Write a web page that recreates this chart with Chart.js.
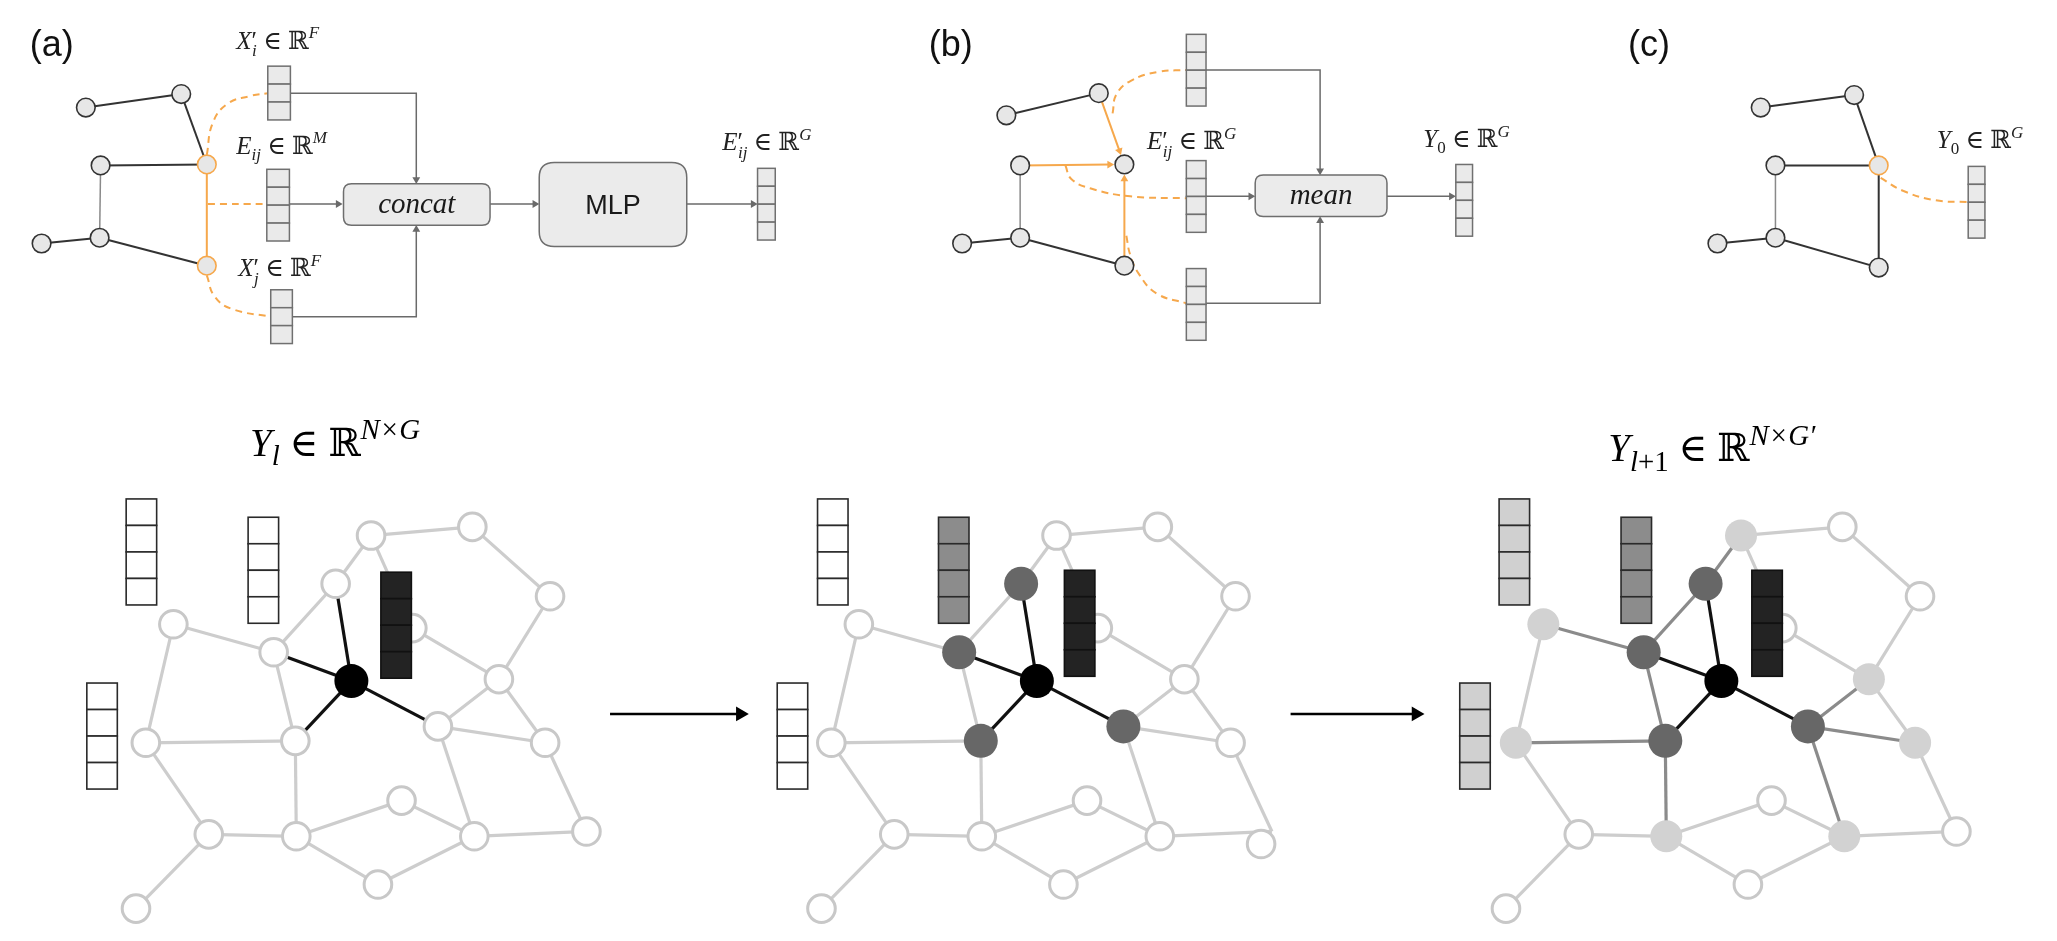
<!DOCTYPE html>
<html><head><meta charset="utf-8">
<script src="https://cdn.jsdelivr.net/npm/chart.js@4.4.0/dist/chart.umd.min.js"></script>
<style>html,body{margin:0;padding:0;background:#fff;overflow:hidden}canvas{display:block}</style>
</head><body>
<canvas id="c" width="2057" height="941"></canvas>
<script>
// ================= DATA =================
const W = 2057, H = 941;

// --- top small graphs (a), (b), (c): node positions and edges ---
const smallGraphA = [[70,94],[167,80],[85,154],[193,153],[25,235],[84,229],[193,258]];
const smallGraphB = [[1006,102],[1100,79],[1020,154],[1126,153],[961,235],[1020,229],[1126,258]];
const smallGraphC = [[1773,94],[1868,81],[1788,154],[1893,154],[1729,235],[1788,229],[1893,260]];
const smallEdgesA = [[0,1],[1,3],[2,3],[4,5],[5,6]];
const smallEdgesB = [[0,1],[4,5],[5,6]];
const smallEdgesC = [[0,1],[1,3],[2,3],[4,5],[5,6],[3,6]];
const smallThinEdges = [[2,5]];
const focusEdgeA = [[3,6]];
const messageArrowsB = [[1,3],[2,3],[6,3]];
const focusNodesA = [3,6];
const focusNodesC = [3];

// --- feature vectors in the top row: [left, top, cells] ---
const topVectors = [[255,51,3],[254,158,4],[258,283,3],[753,157,4],[1189,18,4],[1189,149,4],[1189,261,4],[1463,153,4],[1984,155,4]];

// --- connectors (gray arrows) and orange dashed curves ---
const connectors = [
  [[278,79],[406,79],[406,173]],
  [[277,194],[331,194]],
  [[280,311],[406,311],[406,216]],
  [[481,194],[531,194]],
  [[681,194],[753,194]],
  [[1209,55],[1325,55],[1325,164]],
  [[1209,186],[1259,186]],
  [[1209,297],[1325,297],[1325,207]],
  [[1393,186],[1463,186]]
];
const stepArrows = [[[603,723],[744,723]],[[1295,723],[1431,723]]];
const dashCurves = [
  [[193,143],[199,110],[214,90],[237,82],[255,79]],
  [[194,194],[254,194]],
  [[193,268],[201,290],[219,303],[258,311]],
  [[1114,100],[1118,80],[1133,66],[1160,57],[1189,55]],
  [[1066,154],[1072,168],[1092,178],[1132,186],[1189,188]],
  [[1128,227],[1132,247],[1141,267],[1159,287],[1189,297]],
  [[1895,167],[1917,180],[1950,190],[1984,192]]
];

// --- operation boxes [x0,y0,x1,y1] and their labels ---
const boxes = [[332,173,481,216],[531,151,681,238],[1259,164,1393,207]];
const boxLabels = ['concat','MLP','mean'];

// --- bottom network (base positions, left panel) ---
const netNodes = [[360,538],[463,529],[324,588],[542,601],[402,634],[159,630],[261,659],[340,689],[490,687],[428,736],
                  [131,753],[283,751],[537,753],[391,813],[195,848],[284,850],[465,850],[579,845],[367,900],[121,925]];
const netEdges = [[0,1],[0,2],[0,4],[1,3],[3,8],[4,8],[2,6],[2,7],[5,6],[5,10],[6,7],[6,11],[7,9],[7,11],[8,9],[8,12],
                  [9,12],[9,16],[10,11],[10,14],[11,15],[12,17],[13,15],[13,16],[14,15],[14,19],[15,18],[16,18],[16,17]];
const panelOffsets = [0, 697, 1393];
const panelDepth = [0, 1, 2];
// node states per panel: e = untouched, c = centre, h = 1-hop, g = 2-hop
const nodeStates = [
  ['e','e','e','e','e','e','e','c','e','e','e','e','e','e','e','e','e','e','e','e'],
  ['e','e','h','e','e','e','h','c','e','h','e','h','e','e','e','e','e','e','e','e'],
  ['g','e','h','e','e','g','h','c','g','h','g','h','g','e','e','g','g','e','e','e']
];
const movedNodes = [[1, 17, 1265, 858]]; // [panel, node, x, y] node drawn off its edge ends
// bottom vectors: [left, top, state]
const bottomVectors = [
  [111,500,'e'],[235,519,'e'],[370,576,'c'],[71,691,'e'],
  [814,500,'e'],[937,519,'h'],[1065,574,'c'],[773,691,'e'],
  [1507,500,'g'],[1631,519,'h'],[1764,574,'c'],[1467,691,'g']
];

// --- text ---
const panelLabels = ['(a)','(b)','(c)'];
const panelLabelPos = [[13,40],[927,40],[1638,40]];
const mathLabels = [
  [['X','it'],['′','prime'],['i','sub2'],[' ∈ ','rm'],['ℝ','rm'],['F','sup']],
  [['E','it'],['ij','sub'],[' ∈ ','rm'],['ℝ','rm'],['M','sup']],
  [['X','it'],['′','prime'],['j','sub2'],[' ∈ ','rm'],['ℝ','rm'],['F','sup']],
  [['E','it'],['′','prime'],['ij','sub2'],[' ∈ ','rm'],['ℝ','rm'],['G','sup']],
  [['E','it'],['′','prime'],['ij','sub2'],[' ∈ ','rm'],['ℝ','rm'],['G','sup']],
  [['Y','it'],['0','subr'],[' ∈ ','rm'],['ℝ','rm'],['G','sup']],
  [['Y','it'],['0','subr'],[' ∈ ','rm'],['ℝ','rm'],['G','sup']]
];
const mathLabelPos = [[223,33],[223,142],[225,269],[717,138],[1149,137],[1430,135],[1952,136]];
const titles = [
  [['Y','it'],['l','sub'],[' ∈ ','rm'],['ℝ','rm'],['N×G','sup']],
  [['Y','it'],['l','sub'],['+1','subr'],[' ∈ ','rm'],['ℝ','rm'],['N×G′','sup']]
];
const titlePos = [[237,455],[1618,461]];

// ================= STYLE =================
const ORANGE = '#f6a84c';
const topVecW = [23,23,22,18,20,20,20,17,17], topCellH = 18.6;
const botVecW = 31, botCellH = 27.5;
const stateNode = {
  e: {r: 13.8, bg: '#ffffff', bd: '#c8c8c8', bw: 3},
  c: {r: 17, bg: '#000000', bd: '#000000', bw: 0},
  h: {r: 17, bg: '#676767', bd: '#676767', bw: 0},
  g: {r: 16, bg: '#d2d2d2', bd: '#d2d2d2', bw: 0}
};
const stateVec = {e: '#ffffff', c: '#232323', h: '#8c8c8c', g: '#d0d0d0'};

// ================= BUILD DATASETS =================
const datasets = [];
const P = a => ({x: a[0], y: a[1]});
function line(pts, color, width, extra) {
  datasets.push(Object.assign({
    data: pts.map(P), showLine: true, borderColor: color, borderWidth: width,
    pointRadius: 0, pointHoverRadius: 0, fill: false, tension: 0, order: 5,
    borderCapStyle: 'butt', borderJoinStyle: 'miter'
  }, extra || {}));
}
const heads = {};
function arrowHead(key, pts, r) {
  const n = pts.length, a = pts[n - 2], b = pts[n - 1];
  const dx = b[0] - a[0], dy = b[1] - a[1], L = Math.hypot(dx, dy);
  const ux = dx / L, uy = dy / L;
  const c = [b[0] - ux * r, b[1] - uy * r];
  (heads[key] = heads[key] || []).push({pt: c, rot: Math.atan2(ux, -uy) * 180 / Math.PI});
  return pts.slice(0, n - 1).concat([c]);
}

// top graphs
function smallGraph(nodes, dark, focusEdges, focusNodes) {
  dark.forEach(([i, j]) => line([nodes[i], nodes[j]], '#333333', 2));
  smallThinEdges.forEach(([i, j]) => line([nodes[i], nodes[j]], '#8a8a8a', 1.5));
  focusEdges.forEach(([i, j]) => line([nodes[i], nodes[j]], ORANGE, 2));
  datasets.push({
    data: nodes.map(P), showLine: false, order: 1,
    pointRadius: 9.3, pointHoverRadius: 9.3, pointBorderWidth: 1.6,
    pointBackgroundColor: '#e7e7e7',
    pointBorderColor: nodes.map((_, k) => focusNodes.includes(k) ? ORANGE : '#333333')
  });
}
smallGraph(smallGraphA, smallEdgesA, focusEdgeA, focusNodesA);
smallGraph(smallGraphB, smallEdgesB, [], []);
smallGraph(smallGraphC, smallEdgesC, [], focusNodesC);
messageArrowsB.forEach(([i, j]) => {
  const s = smallGraphB[i], t = smallGraphB[j];
  const dx = t[0] - s[0], dy = t[1] - s[1], L = Math.hypot(dx, dy);
  const tip = [t[0] - dx / L * 10.5, t[1] - dy / L * 10.5];
  line(arrowHead('orange', [s, tip], 4.5), ORANGE, 2);
});
dashCurves.forEach(c => line(c, ORANGE, 2, {borderDash: [7, 5], tension: 0.45, order: 7}));
connectors.forEach(c => line(arrowHead('gray', c, 4.5), '#6a6a6a', 1.5));
stepArrows.forEach(c => line(arrowHead('black', c, 8.5), '#000000', 2.5));

// bottom panels
panelOffsets.forEach((off, p) => {
  const st = nodeStates[p];
  const pos = netNodes.map(([x, y]) => [x + off, y]);
  netEdges.forEach(([i, j]) => {
    let col = '#cdcdcd', ord = 6;
    if (st[i] === 'c' || st[j] === 'c') { col = '#111111'; ord = 4; }
    else if (panelDepth[p] >= 2 && (st[i] === 'h' || st[j] === 'h')) { col = '#8b8b8b'; ord = 5; }
    line([pos[i], pos[j]], col, 3.2, {order: ord});
  });
  const drawPos = pos.map(q => q.slice());
  movedNodes.filter(m => m[0] === p).forEach(m => { drawPos[m[1]] = [m[2], m[3]]; });
  datasets.push({
    data: drawPos.map(P), showLine: false, order: 1,
    pointRadius: st.map(s => stateNode[s].r), pointHoverRadius: st.map(s => stateNode[s].r),
    pointBackgroundColor: st.map(s => stateNode[s].bg),
    pointBorderColor: st.map(s => stateNode[s].bd),
    pointBorderWidth: st.map(s => stateNode[s].bw)
  });
});

// arrow heads
const headStyle = {gray: ['#6a6a6a', 4.5], black: ['#000000', 8.5], orange: [ORANGE, 4.5]};
Object.keys(heads).forEach(k => {
  datasets.push({
    data: heads[k].map(h => P(h.pt)), showLine: false, order: 0,
    pointStyle: 'triangle', pointRotation: heads[k].map(h => h.rot),
    pointRadius: headStyle[k][1], pointHoverRadius: headStyle[k][1],
    pointBackgroundColor: headStyle[k][0], pointBorderColor: headStyle[k][0], pointBorderWidth: 0
  });
});

// ================= OVERLAY (cells, boxes, text) =================
function drawMath(ctx, px, py, tokens, size, color, ratio) {
  let cx = px, supStart = px;
  ctx.fillStyle = color; ctx.textBaseline = 'alphabetic'; ctx.textAlign = 'left';
  for (const [t, k] of tokens) {
    let s = size, dy = 0, it = true, x = cx;
    if (k === 'rm') it = false;
    if (k === 'prime') { it = false; supStart = cx + size * 0.02; }
    if (k === 'sup') { s = size * ratio; dy = -size * 0.42; }
    if (k === 'sub' || k === 'subr') { s = size * ratio; dy = size * 0.24; it = (k === 'sub'); }
    if (k === 'sub2') { s = size * ratio; dy = size * 0.3; x = supStart; }
    ctx.font = (it ? 'italic ' : '') + s + 'px "Liberation Serif", "DejaVu Serif", serif';
    ctx.fillText(t, x, py + dy);
    cx = Math.max(cx, x + ctx.measureText(t).width);
  }
}
function roundRect(ctx, x0, y0, x1, y1, r) {
  ctx.beginPath();
  ctx.moveTo(x0 + r, y0); ctx.lineTo(x1 - r, y0); ctx.quadraticCurveTo(x1, y0, x1, y0 + r);
  ctx.lineTo(x1, y1 - r); ctx.quadraticCurveTo(x1, y1, x1 - r, y1);
  ctx.lineTo(x0 + r, y1); ctx.quadraticCurveTo(x0, y1, x0, y1 - r);
  ctx.lineTo(x0, y0 + r); ctx.quadraticCurveTo(x0, y0, x0 + r, y0);
  ctx.closePath();
}
const overlay = {
  id: 'overlay',
  afterDatasetsDraw(chart) {
    const ctx = chart.ctx, xs = chart.scales.x, ys = chart.scales.y;
    const X = v => xs.getPixelForValue(v), Y = v => ys.getPixelForValue(v);
    ctx.save();
    function cells(left, top, n, w, ch, fill, stroke, lw) {
      ctx.lineWidth = lw; ctx.strokeStyle = stroke; ctx.fillStyle = fill;
      for (let k = 0; k < n; k++) {
        const x0 = X(left), x1 = X(left + w), y0 = Y(top + k * ch), y1 = Y(top + (k + 1) * ch);
        ctx.fillRect(x0, y0, x1 - x0, y1 - y0);
        ctx.strokeRect(x0, y0, x1 - x0, y1 - y0);
      }
    }
    topVectors.forEach(([l, t, n], i) => cells(l, t, n, topVecW[i], topCellH, '#eaeaea', '#707070', 1.5));
    bottomVectors.forEach(([l, t, s]) => cells(l, t, 4, botVecW, botCellH, stateVec[s], s === 'c' ? '#111111' : '#2a2a2a', 1.6));
    // boxes
    boxes.forEach((b, i) => {
      roundRect(ctx, X(b[0]), Y(b[1]), X(b[2]), Y(b[3]), i === 1 ? 15 : 8);
      ctx.fillStyle = '#ebebeb'; ctx.fill();
      ctx.lineWidth = 1.5; ctx.strokeStyle = '#6e6e6e'; ctx.stroke();
      ctx.fillStyle = '#1a1a1a'; ctx.textAlign = 'center'; ctx.textBaseline = 'alphabetic';
      ctx.font = i === 1 ? '27px "Liberation Sans", Arial, sans-serif' : 'italic 29px "Liberation Serif", serif';
      const cy = (b[1] + b[3]) / 2;
      ctx.fillText(boxLabels[i], X((b[0] + b[2]) / 2), Y(cy + (i === 1 ? 10 : 9)));
    });
    // panel labels
    ctx.font = '36px "Liberation Sans", Arial, sans-serif';
    ctx.fillStyle = '#111'; ctx.textAlign = 'left'; ctx.textBaseline = 'alphabetic';
    panelLabels.forEach((t, i) => ctx.fillText(t, X(panelLabelPos[i][0]), Y(panelLabelPos[i][1])));
    mathLabels.forEach((tk, i) => drawMath(ctx, X(mathLabelPos[i][0]), Y(mathLabelPos[i][1]), tk, 25, '#222', 0.68));
    titles.forEach((tk, i) => drawMath(ctx, X(titlePos[i][0]), Y(titlePos[i][1]), tk, 39, '#000', 0.74));
    ctx.restore();
  }
};

new Chart(document.getElementById('c'), {
  type: 'scatter',
  data: {datasets},
  options: {
    responsive: false, animation: false, events: [],
    layout: {padding: 0},
    plugins: {legend: {display: false}, tooltip: {enabled: false}},
    scales: {
      x: {type: 'linear', min: 0, max: W, display: false},
      y: {type: 'linear', min: 0, max: H, reverse: true, display: false}
    }
  },
  plugins: [overlay]
});
</script>
</body></html>
